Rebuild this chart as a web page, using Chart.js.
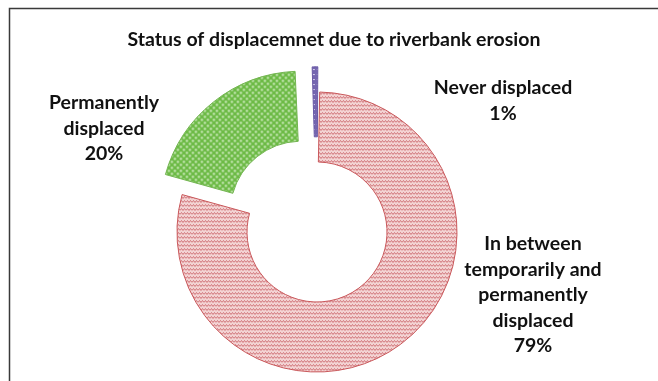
<!DOCTYPE html>
<html>
<head>
<meta charset="utf-8">
<script src="https://cdn.jsdelivr.net/npm/chart.js@4"></script>
<style>
  html, body { margin: 0; padding: 0; background: #fff; }
</style>
</head>
<body>
<canvas id="chart" width="658" height="381"></canvas>
<script>
// data
const chartTitle = 'Status of displacemnet due to riverbank erosion';
const categories = ['Never displaced', 'In between temporarily and permanently displaced', 'Permanently displaced'];
const labelLines = [
  ['Never displaced'],
  ['In between', 'temporarily and', 'permanently', 'displaced'],
  ['Permanently', 'displaced']
];
const percentValues = [1, 79, 20];

const FONT = 'bold 19.5px Lato, "Open Sans", sans-serif';

function makePattern(w, h, draw) {
  const c = document.createElement('canvas');
  c.width = w; c.height = h;
  const g = c.getContext('2d');
  draw(g, w, h);
  return g.createPattern(c, 'repeat');
}

const ctx = document.getElementById('chart').getContext('2d');

// fine red wavy hatch on pink
const redFill = makePattern(6, 4, (g, w, h) => {
  g.fillStyle = '#f3d3d3'; g.fillRect(0, 0, w, h);
  g.strokeStyle = '#d0747a'; g.lineWidth = 1;
  g.beginPath(); g.moveTo(0, 2.5); g.lineTo(1.5, 0.5); g.lineTo(3, 2.5); g.lineTo(4.5, 0.5); g.lineTo(6, 2.5); g.stroke();
});
// green with white dots
const greenFill = makePattern(6, 6, (g, w, h) => {
  g.fillStyle = '#6cba45'; g.fillRect(0, 0, w, h);
  g.fillStyle = '#d6efc6';
  g.beginPath(); g.arc(1.5, 1.5, 1.15, 0, Math.PI * 2); g.fill();
  g.beginPath(); g.arc(4.5, 4.5, 1.15, 0, Math.PI * 2); g.fill();
});
// purple with light dashes
const purpleFill = makePattern(4, 5, (g, w, h) => {
  g.fillStyle = '#7566b0'; g.fillRect(0, 0, w, h);
  g.fillStyle = '#d9d3ee'; g.fillRect(1, 2, 2, 1);
});

// frame: top and left rule like the cropped source
const framePlugin = {
  id: 'frame',
  beforeDraw(chart) {
    const c = chart.ctx;
    c.save();
    c.strokeStyle = '#3a3a3a';
    c.lineWidth = 1.5;
    c.beginPath();
    c.moveTo(9.5, 381); c.lineTo(9.5, 8.5); c.lineTo(658, 8.5);
    c.stroke();
    c.restore();
  }
};

// title and outside labels
const labelOffsets = [
  { dx: 186, dy: -144 },
  { dx: 216, dy: 12 },
  { dx: -213, dy: -129 }
];
const textPlugin = {
  id: 'texts',
  afterDraw(chart) {
    const c = chart.ctx;
    const meta = chart.getDatasetMeta(0);
    const cx = meta.data[0].x, cy = meta.data[0].y;
    c.save();
    c.fillStyle = '#111';
    c.textAlign = 'center';
    c.textBaseline = 'middle';
    c.font = FONT;
    c.fillText(chartTitle, 334, 40);
    labelLines.forEach((lines, i) => {
      const all = lines.concat([percentValues[i] + '%']);
      all.forEach((t, k) => {
        c.fillText(t, cx + labelOffsets[i].dx, cy + labelOffsets[i].dy + k * 25.5);
      });
    });
    c.restore();
  }
};

new Chart(ctx, {
  type: 'doughnut',
  data: {
    labels: categories,
    datasets: [{
      data: percentValues,
      backgroundColor: [purpleFill, redFill, greenFill],
      borderColor: ['#6a5aa6', '#c9585b', '#74b552'],
      borderWidth: 1,
      offset: [52, 0, 100],
      hoverOffset: 0
    }]
  },
  options: {
    responsive: false,
    animation: false,
    events: [],
    radius: 140,
    cutout: '50%',
    rotation: -2.5,
    layout: { padding: { left: 100, right: 124, top: 90, bottom: 7 } },
    plugins: {
      legend: { display: false },
      tooltip: { enabled: false },
      title: { display: false }
    }
  },
  plugins: [framePlugin, textPlugin]
});
</script>
</body>
</html>
